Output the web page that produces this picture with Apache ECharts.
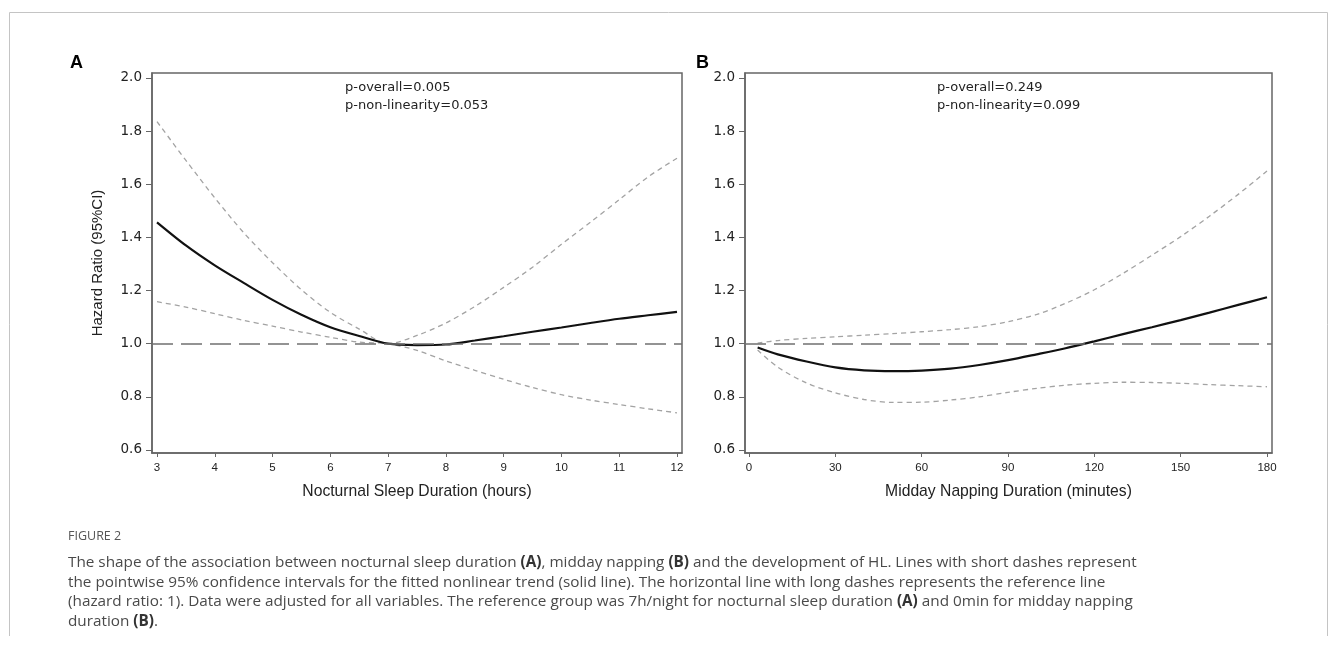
<!DOCTYPE html>
<html><head><meta charset="utf-8">
<script src="https://cdn.jsdelivr.net/npm/echarts@6/dist/echarts.min.js"></script>
<style>html,body{margin:0;padding:0;background:#fff}#c{width:1333px;height:657px}</style>
</head><body><div id="c"></div>
<script>
// ---- Panel A: nocturnal sleep duration (hours) ----
const sleepHours = [3, 3.5, 4, 4.5, 5, 5.5, 6, 6.5, 7, 7.5, 8, 8.5, 9, 9.5, 10, 10.5, 11, 11.5, 12];
const sleepHR    = [1.457, 1.370, 1.295, 1.229, 1.165, 1.109, 1.062, 1.029, 1.000, 0.995, 0.997, 1.012, 1.028, 1.045, 1.061, 1.078, 1.094, 1.107, 1.120];
const sleepUpper = [1.836, 1.690, 1.549, 1.418, 1.305, 1.203, 1.118, 1.055, 1.000, 1.031, 1.078, 1.140, 1.212, 1.288, 1.374, 1.457, 1.542, 1.628, 1.698];
const sleepLower = [1.158, 1.138, 1.113, 1.088, 1.066, 1.044, 1.024, 1.006, 1.000, 0.975, 0.935, 0.900, 0.866, 0.835, 0.808, 0.788, 0.771, 0.755, 0.740];
// ---- Panel B: midday napping duration (minutes) ----
const napMinutes = [3, 10, 20, 30, 40, 50, 60, 70, 80, 90, 100, 110, 120, 130, 140, 150, 160, 170, 180];
const napHR      = [0.986, 0.960, 0.933, 0.911, 0.900, 0.897, 0.899, 0.906, 0.920, 0.938, 0.960, 0.983, 1.009, 1.036, 1.062, 1.089, 1.117, 1.146, 1.175];
const napUpper   = [1.002, 1.012, 1.020, 1.026, 1.032, 1.038, 1.045, 1.053, 1.064, 1.083, 1.110, 1.152, 1.203, 1.265, 1.333, 1.403, 1.480, 1.562, 1.650];
const napLower   = [0.976, 0.912, 0.852, 0.815, 0.790, 0.779, 0.780, 0.788, 0.800, 0.817, 0.832, 0.844, 0.851, 0.855, 0.854, 0.851, 0.846, 0.842, 0.838];
// ---- ticks ----
const sleepTicks = [3, 4, 5, 6, 7, 8, 9, 10, 11, 12];
const napTicks = [0, 30, 60, 90, 120, 150, 180];
const hrTicks = [0.6, 0.8, 1.0, 1.2, 1.4, 1.6, 1.8, 2.0];
const referenceHR = 1.0;
const pTextA = ['p-overall=0.005', 'p-non-linearity=0.053'];
const pTextB = ['p-overall=0.249', 'p-non-linearity=0.099'];

const zip = (xs, ys) => xs.map((x, i) => [x, ys[i]]);
const AX = '#666';
const tickFont = "'DejaVu Sans', Verdana, sans-serif";
const sans = "'Liberation Sans', Arial, sans-serif";
const capFont = "'Open Sans', Lato, sans-serif";

function xAxis(gi, min, max, ticks, name) {
  return {
    type: 'value', gridIndex: gi, min: min, max: max,
    axisLine: {show: true, onZero: false, lineStyle: {color: AX, width: 1.5}},
    axisTick: {show: true, length: 4, customValues: ticks, lineStyle: {color: AX, width: 1}},
    axisLabel: {customValues: ticks, margin: 9, fontFamily: sans, fontSize: 11.5, color: '#222'},
    splitLine: {show: false},
    name: name, nameLocation: 'middle', nameGap: 31,
    nameTextStyle: {fontFamily: sans, fontSize: 15.7, color: '#222'}
  };
}
function yAxis(gi, name) {
  return {
    type: 'value', gridIndex: gi, min: 0.5887, max: 2.0188,
    axisLine: {show: true, onZero: false, lineStyle: {color: AX, width: 1.5}},
    axisTick: {show: true, length: 6, customValues: hrTicks, lineStyle: {color: AX, width: 1}},
    axisLabel: {customValues: hrTicks, formatter: v => Number(v).toFixed(1), margin: 10,
      fontFamily: tickFont, fontSize: 13.5, color: '#222'},
    splitLine: {show: false},
    name: name || '', nameLocation: 'middle', nameGap: 47, nameRotate: 90,
    nameTextStyle: {fontFamily: sans, fontSize: 15, color: '#222'}
  };
}
function ci(gi, xs, ys, withRef) {
  const s = {
    type: 'line', xAxisIndex: gi, yAxisIndex: gi, data: zip(xs, ys), smooth: 0.3,
    showSymbol: false, symbol: 'none',
    lineStyle: {color: '#a3a3a3', width: 1.3, type: [5, 4]}, z: 2
  };
  if (withRef) {
    s.markLine = {
      silent: true, symbol: ['none', 'none'], label: {show: false},
      lineStyle: {color: '#707070', width: 1.6, type: [21, 8]},
      data: [{yAxis: referenceHR}], animation: false
    };
  }
  return s;
}
function fit(gi, xs, ys) {
  return {type: 'line', xAxisIndex: gi, yAxisIndex: gi, data: zip(xs, ys), smooth: 0.3,
    showSymbol: false, symbol: 'none', lineStyle: {color: '#111', width: 2.2}, z: 3};
}

const boldRich = {
  n: {fontFamily: capFont, fontSize: 15.3, color: '#4a4a4a', fontWeight: 'normal', lineHeight: 19.5},
  b: {fontFamily: capFont, fontSize: 15.3, color: '#333', fontWeight: 'bold', lineHeight: 19.5}
};
const caption = [
  '{n|The shape of the association between nocturnal sleep duration }{b|(A)}{n|, midday napping }{b|(B)}{n| and the development of HL. Lines with short dashes represent}',
  '{n|the pointwise 95% confidence intervals for the fitted nonlinear trend (solid line). The horizontal line with long dashes represents the reference line}',
  '{n|(hazard ratio: 1). Data were adjusted for all variables. The reference group was 7h/night for nocturnal sleep duration }{b|(A)}{n| and 0min for midday napping}',
  '{n|duration }{b|(B)}{n|.}'
].join('\n');

const pStyle = {fontFamily: tickFont, fontSize: 13, fill: '#222'};
const chart = echarts.init(document.getElementById('c'), null, {renderer: 'canvas'});
chart.setOption({
  animation: false,
  backgroundColor: '#fff',
  title: [
    {text: 'FIGURE 2', left: 68, top: 530, padding: 0,
      textStyle: {fontFamily: capFont, fontSize: 12.5, fontWeight: 'normal', color: '#555'}},
    {text: caption, left: 68, top: 553, padding: 0,
      textStyle: {rich: boldRich, fontFamily: capFont, fontWeight: 'normal', fontSize: 15.3, lineHeight: 19.5, color: '#4a4a4a'}}
  ],
  grid: [
    {left: 152, right: 651, top: 73, bottom: 204, show: true, borderColor: AX, borderWidth: 1.5, backgroundColor: 'transparent'},
    {left: 745, right: 61, top: 73, bottom: 204, show: true, borderColor: AX, borderWidth: 1.5, backgroundColor: 'transparent'}
  ],
  xAxis: [
    xAxis(0, 2.9135, 12.0865, sleepTicks, 'Nocturnal Sleep Duration (hours)'),
    xAxis(1, -1.39, 181.74, napTicks, 'Midday Napping Duration (minutes)')
  ],
  yAxis: [yAxis(0, 'Hazard Ratio (95%CI)'), yAxis(1)],
  series: [
    ci(0, sleepHours, sleepLower, true), ci(0, sleepHours, sleepUpper, false), fit(0, sleepHours, sleepHR),
    ci(1, napMinutes, napLower, true), ci(1, napMinutes, napUpper, false), fit(1, napMinutes, napHR)
  ],
  graphic: [
    {type: 'polyline', silent: true, shape: {points: [[9.5, 636], [9.5, 12.5], [1327.5, 12.5], [1327.5, 636]]},
      style: {stroke: '#c4c4c4', lineWidth: 1, fill: null}},
    {type: 'text', left: 70, top: 54, style: {text: 'A', fontFamily: sans, fontSize: 18, fontWeight: 'bold', fill: '#000'}},
    {type: 'text', left: 696, top: 54, style: {text: 'B', fontFamily: sans, fontSize: 18, fontWeight: 'bold', fill: '#000'}},
    {type: 'text', left: 345, top: 79, style: Object.assign({text: pTextA.join('\n'), lineHeight: 18}, pStyle)},
    {type: 'text', left: 937, top: 79, style: Object.assign({text: pTextB.join('\n'), lineHeight: 18}, pStyle)}
  ]
});
</script></body></html>
